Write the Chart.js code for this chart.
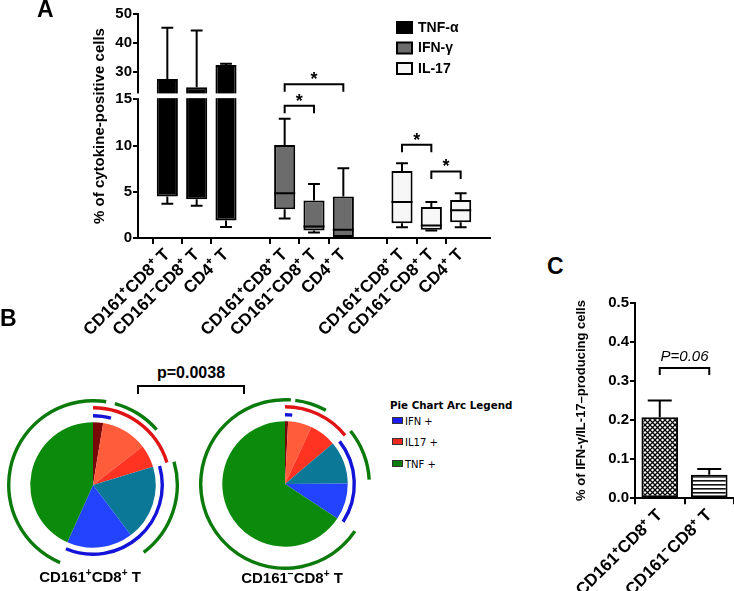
<!DOCTYPE html>
<html>
<head>
<meta charset="utf-8">
<script src="https://cdn.jsdelivr.net/npm/chart.js@4.4.1/dist/chart.umd.min.js"></script>
<style>
  body { margin: 0; width: 734px; height: 591px; position: relative; overflow: hidden; background: #fff; font-family: "Liberation Sans", Arial, sans-serif; color: #000; }
  canvas, .txt { position: absolute; }
  .letter { font-weight: bold; font-size: 23px; line-height: 23px; }
  .bold15 { font-weight: bold; font-size: 15px; line-height: 18px; text-align: center; white-space: nowrap; }
  .bold15 sup { font-size: 10px; line-height: 0; }
  .bracket { position: absolute; box-sizing: border-box; border: 2px solid #000; border-bottom: none; }
  .legB { font-family: "DejaVu Sans", sans-serif; font-size: 10px; line-height: 12px; white-space: nowrap; }
  .legB span { display: inline-block; width: 9px; height: 5px; border: 1px solid #333; margin-right: 2px; vertical-align: 1px; }
</style>
</head>
<body>
<canvas id="chartA" width="510" height="345" style="left:0;top:0"></canvas>
<canvas id="pie1" width="180" height="180" style="left:2.5px;top:394.5px"></canvas>
<canvas id="pie2" width="180" height="180" style="left:194.5px;top:394px"></canvas>
<canvas id="chartC" width="194" height="311" style="left:540px;top:280px"></canvas>

<div class="txt letter" style="left:37px;top:-2px">A</div>
<div class="txt letter" style="left:0;top:307px">B</div>
<div class="txt letter" style="left:547px;top:255px">C</div>

<div class="txt bold15" style="left:141px;width:100px;top:364px;font-size:16px">p=0.0038</div>
<div class="bracket" style="left:137px;top:385px;width:108px;height:9px"></div>
<div class="txt bold15" style="left:0;width:180px;top:568px">CD161<sup>+</sup>CD8<sup>+</sup> T</div>
<div class="txt bold15" style="left:202px;width:180px;top:569px">CD161<sup>−</sup>CD8<sup>+</sup> T</div>

<div class="txt legB" style="left:390px;top:399px;font-weight:bold;font-size:10.3px">Pie Chart Arc Legend</div>
<div class="txt legB" style="left:392px;top:416px"><span style="background:#1c1cf0"></span>IFN +</div>
<div class="txt legB" style="left:392px;top:437px"><span style="background:#f02a22"></span>IL17 +</div>
<div class="txt legB" style="left:392px;top:459px"><span style="background:#0c7c0c"></span>TNF +</div>

<script>
Chart.defaults.font.family = '"Liberation Sans", Arial, sans-serif'
Chart.defaults.color = '#000'

// ---- panel A: cytokine-positive cells (box plots) ----
const cellTypes = ['CD161⁺CD8⁺ T', 'CD161⁻CD8⁺ T', 'CD4⁺ T']
const cytokines = ['TNF-α', 'IFN-γ', 'IL-17']
// [min, q1, median, q3, max] per cell type
const tnfBoxes = [[3.7, 4.5, 12, 27.5, 45.2], [3.5, 4.2, 11, 24.6, 44.3], [1.2, 1.9, 9, 32.3, 32.8]]
const ifnBoxes = [[2.1, 3.1, 4.85, 10.05, 12.9], [0.6, 0.8, 1.25, 4.05, 5.85], [0.05, 0.1, 0.9, 4.5, 7.55]]
const il17Boxes = [[1.15, 1.6, 3.9, 7.25, 8.1], [0.8, 0.9, 1.35, 3.35, 3.9], [1.15, 1.7, 3.0, 4.1, 4.85]]
const yTicksA = [0, 5, 10, 15, 30, 40, 50]
// significance brackets: [from category, to category, height on y axis]
const sigBracketsA = [[5, 6, 14.3], [5, 7, 25.7], [9, 10, 10.1], [10, 11, 7.2]]

// ---- panel B: SPICE pies ----
const pieCategories = ['IFN+IL17+TNF+', 'IL17+TNF+', 'IL17+', 'IFN+TNF+', 'IFN+', 'TNF+']
const pie1Shares = [2.6, 11.9, 5.8, 19.4, 17.0, 43.3]
const pie2Shares = [0.8, 6.1, 6.9, 11.1, 9.4, 65.7]
// arc spans in degrees clockwise from 12 o'clock
const pie1IfnArcs = [[0, 15], [74, 203]]
const pie1Il17Arcs = [[0, 73]]
const pie1TnfArcs = [[203, 369], [15, 49], [74, 143]]
const pie2IfnArcs = [[0, 6], [52, 123]]
const pie2Il17Arcs = [[0, 51]]
const pie2TnfArcs = [[124, 364], [7, 29], [51, 87]]

// ---- panel C: IFN-γ/IL-17 double producers ----
const cLabels = ['CD161⁺CD8⁺ T', 'CD161⁻CD8⁺ T']
const cMeans = [0.207, 0.06]
const cSem = [0.043, 0.015]
const yTicksC = [0, 0.1, 0.2, 0.3, 0.4, 0.5]
const sigBracketC = [0, 1, 0.333, 'P=0.06']

// broken y axis: 0-15 below the break, 22.5-50 above it
const breakLow = 15, breakHigh = 22.5
const lowFrac = 0.619, highFrac = 0.6455

class BrokenScale extends Chart.LinearScale {
  static id = 'broken'
  frac(v) {
    if (v <= breakLow) return v / breakLow * lowFrac
    if (v >= breakHigh) return highFrac + (v - breakHigh) / (this.max - breakHigh) * (1 - highFrac)
    return lowFrac + (v - breakLow) / (breakHigh - breakLow) * (highFrac - lowFrac)
  }
  getPixelForValue(v) {
    if (v === null || v === undefined) return NaN
    return this.bottom - this.frac(v) * (this.bottom - this.top)
  }
  getValueForPixel(p) {
    const f = (this.bottom - p) / (this.bottom - this.top)
    if (f <= lowFrac) return f / lowFrac * breakLow
    if (f >= highFrac) return breakHigh + (f - highFrac) / (1 - highFrac) * (this.max - breakHigh)
    return breakLow + (f - lowFrac) / (highFrac - lowFrac) * (breakHigh - breakLow)
  }
}
Chart.register(BrokenScale)

const xLabelsA = ['', ...cellTypes, '', ...cellTypes, '', ...cellTypes, '']
const groupStart = [1, 5, 9]
const boxSets = [tnfBoxes, ifnBoxes, il17Boxes]
const boxFills = ['#000000', '#6c6c6c', '#f7f7f7']

const datasetsA = boxSets.map((boxes, g) => {
    const data = xLabelsA.map(() => null)
    boxes.forEach((b, k) => { data[groupStart[g] + k] = [b[1], b[3]] })
    return {
        label: cytokines[g],
        data,
        backgroundColor: boxFills[g],
        borderColor: '#000',
        borderWidth: 2,
        borderSkipped: false,
        grouped: false,
        barPercentage: 0.72,
        categoryPercentage: 1
    }
})

const boxPlotExtras = {
    id: 'boxPlotExtras',
    afterDatasetsDraw(chart) {
        const { ctx, chartArea, scales: { x, y } } = chart
        ctx.save()
        ctx.strokeStyle = '#000'
        ctx.lineWidth = 2
        // whiskers and medians (the median vanishes inside the solid black TNF boxes)
        chart.data.datasets.forEach((ds, i) => {
            chart.getDatasetMeta(i).data.forEach((bar, j) => {
                const b = boxSets[i][j - groupStart[i]]
                if (!b || ds.data[j] === null) return
                const half = bar.width / 2, cap = bar.width * 0.28
                const [lo, q1, med, q3, hi] = b.map(v => y.getPixelForValue(v))
                ctx.beginPath()
                ctx.moveTo(bar.x, q3); ctx.lineTo(bar.x, hi)
                ctx.moveTo(bar.x - cap, hi); ctx.lineTo(bar.x + cap, hi)
                ctx.moveTo(bar.x, q1); ctx.lineTo(bar.x, lo)
                ctx.moveTo(bar.x - cap, lo); ctx.lineTo(bar.x + cap, lo)
                if (ds.backgroundColor !== '#000000') {
                    ctx.moveTo(bar.x - half, med); ctx.lineTo(bar.x + half, med)
                }
                ctx.stroke()
            })
        })
        // axis break
        const top = y.getPixelForValue(breakHigh), bottom = y.getPixelForValue(breakLow) - 1.2
        ctx.fillStyle = '#fff'
        ctx.fillRect(chartArea.left - 3, top, chartArea.right - chartArea.left + 3, bottom - top)
        // significance brackets
        ctx.fillStyle = '#000'
        ctx.font = 'bold 18px "Liberation Sans", Arial, sans-serif'
        ctx.textAlign = 'center'
        ctx.textBaseline = 'alphabetic'
        sigBracketsA.forEach(([a, b, h]) => {
            const x1 = x.getPixelForValue(a), x2 = x.getPixelForValue(b), yy = y.getPixelForValue(h)
            ctx.beginPath()
            ctx.moveTo(x1, yy + 7.5); ctx.lineTo(x1, yy); ctx.lineTo(x2, yy); ctx.lineTo(x2, yy + 7.5)
            ctx.stroke()
            ctx.fillText('*', (x1 + x2) / 2, yy + 1)
        })
        ctx.restore()
    },
    afterDraw(chart) {
        // legend box at the upper right
        const { ctx } = chart
        ctx.save()
        ctx.font = 'bold 14px "Liberation Sans", Arial, sans-serif'
        ctx.textBaseline = 'middle'
        ctx.lineWidth = 2
        ctx.strokeStyle = '#000'
        chart.data.datasets.forEach((ds, i) => {
            const top = 22 + i * 20.5
            ctx.fillStyle = ds.backgroundColor
            ctx.fillRect(397, top, 15, 11)
            ctx.strokeRect(397, top, 15, 11)
            ctx.fillStyle = '#000'
            ctx.fillText(ds.label, 418, top + 6)
        })
        ctx.restore()
    }
}

new Chart(document.getElementById('chartA'), {
    type: 'bar',
    data: { labels: xLabelsA, datasets: datasetsA },
    options: {
        responsive: false,
        animation: false,
        events: [],
        layout: { padding: { top: 14, right: 20, left: 0, bottom: 0 } },
        plugins: { legend: { display: false }, tooltip: { enabled: false } },
        scales: {
            x: {
                offset: false,
                grid: {
                    drawOnChartArea: false, lineWidth: 2, tickLength: 6,
                    tickColor: ctx => xLabelsA[ctx.index] ? '#000' : 'rgba(0,0,0,0)'
                },
                border: { color: '#000', width: 2 },
                ticks: { autoSkip: false, minRotation: 45, maxRotation: 45, padding: 1, color: '#000', font: { size: 17, weight: 'bold' } },
                afterFit: s => { s.height = 107; s.paddingLeft = 0; s.paddingRight = 0 }
            },
            y: {
                type: 'broken',
                min: 0,
                max: 50,
                afterBuildTicks: s => { s.ticks = yTicksA.map(v => ({ value: v })) },
                grid: { drawOnChartArea: false, color: '#000', lineWidth: 2, tickLength: 5 },
                border: { color: '#000', width: 2 },
                ticks: { padding: 1, color: '#000', font: { size: 15, weight: 'bold' } },
                title: {
                    display: true, text: '% of cytokine-positive cells', color: '#000',
                    font: { size: 15, weight: 'bold' }, padding: { top: 91, bottom: 0 }
                },
                afterFit: s => { s.width = 138 }
            }
        }
    },
    plugins: [boxPlotExtras]
})

// ---- pies with arc rings ----
const sliceColors = ['#7a0808', '#ff5c3c', '#ff3322', '#0b7898', '#2244ff', '#0b8a0b']
const arcColors = { ifn: '#1414d8', il17: '#e01414', tnf: '#0a7a0a' }
const clear = 'rgba(0,0,0,0)'

function ringData(arcs, color) {
    const segs = []
    arcs.forEach(([a, b]) => {
        if (b > 360) segs.push([a, 360], [0, b - 360])
        else segs.push([a, b])
    })
    segs.sort((p, q) => p[0] - q[0])
    const data = [], backgroundColor = []
    let pos = 0
    segs.forEach(([a, b]) => {
        if (a > pos) { data.push(a - pos); backgroundColor.push(clear) }
        data.push(b - a); backgroundColor.push(color)
        pos = b
    })
    if (pos < 360) { data.push(360 - pos); backgroundColor.push(clear) }
    return { data, backgroundColor }
}

function pieConfig(shares, ifnArcs, il17Arcs, tnfArcs) {
    const spacer = w => ({ data: [1], backgroundColor: [clear], weight: w })
    return {
        type: 'pie',
        data: {
            labels: pieCategories,
            datasets: [
                { ...ringData(tnfArcs, arcColors.tnf), weight: 3.4 },
                spacer(3.6),
                { ...ringData(il17Arcs, arcColors.il17), weight: 3.4 },
                spacer(4.6),
                { ...ringData(ifnArcs, arcColors.ifn), weight: 3.4 },
                spacer(4.8),
                { data: shares, backgroundColor: sliceColors, weight: 62.6 }
            ]
        },
        options: {
            responsive: false,
            animation: false,
            events: [],
            radius: 86,
            hoverOffset: 0,
            elements: { arc: { borderWidth: 0 } },
            layout: { padding: 0 },
            plugins: { legend: { display: false }, tooltip: { enabled: false } }
        }
    }
}

new Chart(document.getElementById('pie1'), pieConfig(pie1Shares, pie1IfnArcs, pie1Il17Arcs, pie1TnfArcs))
new Chart(document.getElementById('pie2'), pieConfig(pie2Shares, pie2IfnArcs, pie2Il17Arcs, pie2TnfArcs))

// ---- panel C ----
function makePattern(w, h, draw) {
    const c = document.createElement('canvas')
    c.width = w; c.height = h
    const g = c.getContext('2d')
    g.fillStyle = '#fff'
    g.fillRect(0, 0, w, h)
    draw(g)
    return g.createPattern(c, 'repeat')
}
const crossHatch = makePattern(5, 5, g => {
    g.strokeStyle = '#000'; g.lineWidth = 1.3
    g.beginPath(); g.moveTo(0, 0); g.lineTo(5, 5); g.moveTo(5, 0); g.lineTo(0, 5); g.stroke()
})
const hStripes = makePattern(4, 4, g => {
    g.fillStyle = '#111'; g.fillRect(0, 0, 4, 1.6)
})

const errorBarsC = {
    id: 'errorBarsC',
    afterDatasetsDraw(chart) {
        const { ctx, scales: { x, y } } = chart
        ctx.save()
        ctx.strokeStyle = '#000'
        ctx.lineWidth = 2
        chart.getDatasetMeta(0).data.forEach((bar, i) => {
            const base = y.getPixelForValue(cMeans[i]), tip = y.getPixelForValue(cMeans[i] + cSem[i])
            const cap = 12
            ctx.beginPath()
            ctx.moveTo(bar.x, base); ctx.lineTo(bar.x, tip)
            ctx.moveTo(bar.x - cap, tip); ctx.lineTo(bar.x + cap, tip)
            ctx.stroke()
        })
        const [a, b, h, text] = sigBracketC
        const x1 = x.getPixelForValue(a), x2 = x.getPixelForValue(b), yy = y.getPixelForValue(h)
        ctx.beginPath()
        ctx.moveTo(x1, yy + 7); ctx.lineTo(x1, yy); ctx.lineTo(x2, yy); ctx.lineTo(x2, yy + 7)
        ctx.stroke()
        ctx.fillStyle = '#000'
        ctx.font = 'italic 15px "Liberation Sans", Arial, sans-serif'
        ctx.textAlign = 'center'
        ctx.fillText(text, (x1 + x2) / 2, yy - 7.5)
        ctx.restore()
    }
}

new Chart(document.getElementById('chartC'), {
    type: 'bar',
    data: {
        labels: cLabels,
        datasets: [{
            data: cMeans,
            backgroundColor: [crossHatch, hStripes],
            borderColor: '#000',
            borderWidth: 2,
            borderSkipped: false,
            barPercentage: 0.74,
            categoryPercentage: 1
        }]
    },
    options: {
        responsive: false,
        animation: false,
        events: [],
        layout: { padding: { top: 22.7, right: 0, left: 0, bottom: 0 } },
        plugins: { legend: { display: false }, tooltip: { enabled: false } },
        scales: {
            x: {
                grid: { drawOnChartArea: false, color: '#000', lineWidth: 2, tickLength: 6 },
                border: { color: '#000', width: 2 },
                ticks: { autoSkip: false, minRotation: 45, maxRotation: 45, padding: 1, color: '#000', font: { size: 17, weight: 'bold' } },
                afterFit: s => { s.height = 92.7; s.paddingLeft = 0; s.paddingRight = 0 }
            },
            y: {
                min: 0,
                max: 0.5,
                afterBuildTicks: s => { s.ticks = yTicksC.map(v => ({ value: v })) },
                grid: { drawOnChartArea: false, color: '#000', lineWidth: 2, tickLength: 5 },
                border: { color: '#000', width: 2 },
                ticks: { padding: 1, color: '#000', font: { size: 15, weight: 'bold' }, callback: v => v.toFixed(1) },
                title: {
                    display: true, text: '% of IFN-γ/IL-17–producing cells', color: '#000',
                    font: { size: 13, weight: 'bold' }, padding: { top: 34, bottom: 0 }
                },
                afterFit: s => { s.width = 95 }
            }
        }
    },
    plugins: [errorBarsC]
})
</script>
</body>
</html>
